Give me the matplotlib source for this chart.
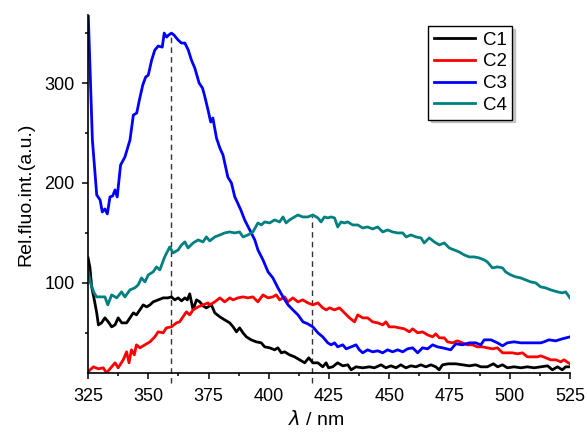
import numpy as np
import matplotlib
matplotlib.use("Agg")
import matplotlib.pyplot as plt
from matplotlib.ticker import MultipleLocator

plt.rcParams['font.family'] = ['Liberation Sans', 'DejaVu Sans']

# C1 (black)
c1_x = [325, 325.8, 326.5, 327.6, 328.6, 329.3, 330.6, 332, 333.4, 334.8, 336.2, 337.5, 339, 341, 342.4,
        343.8, 345.1, 346.5, 347.9, 349.3, 350.7, 352, 354.1, 356.2, 358.2, 359.6, 361, 362.4, 363.8, 365.2,
        366.2, 367.2, 368.6, 370, 371.4, 372.7, 374.1, 375.5, 376.2, 377.6, 379.7, 381.7, 383.8, 385.2, 386.6,
        387.9, 389.3, 390.7, 392.7, 394.8, 396.9, 398.3, 400.4, 402.4, 403.8, 405.2, 406.6, 408.6, 410.7, 412.8,
        414.9, 416.6, 418.3, 420.4, 422.4, 423.8, 424.8, 426.5, 428.6, 430.7, 432.8, 434.2, 436.2, 439, 441.8,
        443.8, 446.6, 448.6, 450.7, 452.8, 454.8, 456.9, 459, 461.1, 463.1, 465.2, 467.3, 469.3, 470.7, 472.1,
        474.5, 477.6, 480.4, 483.2, 485.9, 488, 490.7, 493.2, 495, 497, 499, 501.8, 504.6, 507.3, 510.1,
        512.9, 515.7, 517.7, 519.8, 521.8, 523.2, 525]
c1_y = [125, 115, 96, 83, 70, 58, 60, 65, 61, 56, 58, 65, 60, 60, 65,
        70, 68, 73, 78, 76, 78, 81, 83, 85, 85, 86, 83, 85, 82, 85,
        83, 89, 73, 83, 81, 77, 75, 77, 78, 70, 66, 63, 60, 56, 51,
        55, 50, 46, 43, 41, 40, 36, 35, 33, 35, 30, 31, 28, 26, 23,
        20, 25, 20, 20, 16, 20, 15, 16, 20, 17, 18, 13, 16, 15, 16,
        15, 18, 15, 17, 15, 18, 15, 17, 16, 18, 16, 18, 16, 13, 18,
        19, 19, 18, 17, 18, 16, 16, 19, 16, 18, 15, 16, 15, 16, 15,
        16, 17, 13, 16, 13, 16, 16]

# C2 (red)
c2_x = [325, 327.2, 329.3, 331.3, 332.7, 334.8, 336.2, 337.5, 339.6, 341, 342, 343, 344.2, 345.1, 346.5,
        348.6, 350.7, 352.7, 354.1, 356.2, 357.5, 359.6, 361.7, 363, 364.4, 365.8, 367.2, 368.6, 370.7, 372.7,
        374.8, 375.5, 377.6, 379.7, 381.7, 383.8, 385.2, 387.2, 389.3, 391.4, 393.4, 395.5, 397.6, 399.7, 401.7,
        403.1, 404.5, 406.6, 407.9, 410, 412.1, 414.1, 416.2, 418.3, 420.4, 422.4, 423.8, 425.2, 427.3, 429.3,
        431.4, 433.5, 435.6, 436.9, 439, 441, 443.1, 445.2, 447.3, 448.6, 450, 452.1, 454.2, 456.3, 458.3,
        459.7, 461.8, 463.8, 465.9, 468, 469.3, 470.8, 472.8, 474.2, 476.2, 478.3, 480.4, 482.4, 484.5, 486.6,
        488.7, 490.7, 492.8, 494.9, 497, 499, 501.1, 503.2, 505.3, 507.3, 509.4, 511.5, 512.9, 515, 517,
        519.1, 521.2, 522.5, 525]
c2_y = [11, 16, 14, 15, 10, 16, 20, 15, 23, 31, 20, 33, 28, 38, 35,
        38, 41, 46, 51, 50, 55, 56, 60, 61, 66, 71, 68, 73, 76, 78,
        80, 78, 81, 85, 81, 85, 83, 85, 86, 85, 86, 81, 88, 85, 86,
        88, 83, 86, 81, 85, 81, 83, 80, 78, 80, 75, 73, 75, 73, 75,
        70, 65, 61, 68, 65, 65, 61, 60, 58, 61, 56, 56, 55, 54, 51,
        54, 50, 51, 48, 46, 49, 45, 45, 41, 40, 42, 40, 38, 38, 36,
        36, 35, 34, 35, 30, 30, 30, 29, 30, 26, 26, 26, 27, 25, 23,
        23, 21, 23, 19]

# C3 (blue)
c3_x = [325, 326.8, 328.6, 330, 330.9, 332, 333, 334.1, 335.2, 336.2, 337.1, 338.5, 340.3, 342.4, 343.8,
        345.2, 346.3, 347.7, 348.9, 350, 351.4, 352.7, 354.1, 355.8, 356.6, 357.6, 358.4, 359.6, 360.7, 362.4,
        363.8, 365.2, 366.6, 367.9, 369.3, 371.1, 372.5, 373.4, 374.8, 375.9, 376.8, 378.3, 379.7, 381, 383,
        384.5, 385.9, 386.5, 388.4, 390, 392.1, 394.2, 395.5, 397.6, 399.7, 401.7, 403.8, 405.9, 408, 410,
        412.1, 414.2, 416.2, 418.3, 420.4, 422.4, 424.5, 425.9, 427.3, 428.6, 430.7, 432.1, 434.2, 436.2, 437.6,
        439, 441, 443.1, 445.2, 447.3, 449.3, 451.4, 453.5, 455.6, 457.6, 459.7, 461.8, 463.8, 465.9, 468,
        470, 472.1, 475.5, 477.6, 480.4, 483.2, 485.9, 488, 489.4, 492.2, 494.9, 497, 499, 501.8, 504.6,
        507.3, 510.1, 512.9, 514.2, 516.3, 519.1, 521.8, 525]
c3_y = [375, 243, 188, 183, 171, 174, 169, 186, 187, 193, 186, 218, 226, 243, 268,
        270, 283, 298, 306, 308, 323, 333, 337, 336, 350, 346, 348, 350, 348, 343,
        340, 340, 333, 323, 315, 300, 295, 287, 273, 261, 265, 245, 235, 228, 206,
        200, 186, 183, 173, 163, 153, 143, 133, 123, 111, 105, 95, 86, 78, 73,
        68, 61, 59, 56, 50, 46, 40, 38, 40, 36, 38, 34, 36, 38, 33,
        30, 33, 31, 32, 30, 33, 31, 33, 31, 34, 35, 30, 35, 34, 38,
        36, 35, 33, 39, 38, 40, 40, 38, 43, 43, 40, 37, 40, 41, 40,
        40, 40, 40, 41, 43, 42, 44, 46]

# C4 (teal)
c4_x = [325, 326, 327.5, 328.6, 330.6, 332, 333.2, 334.8, 336.9, 338.9, 340.3, 342.4, 344.4, 345.8, 347.2,
        348.6, 350, 352, 353.4, 354.8, 356.8, 358.9, 360.3, 362.4, 363.8, 365.2, 366.5, 368.6, 370.7, 372.7,
        374.1, 375.5, 377.6, 379.7, 381.7, 383.8, 385.9, 387.9, 389.3, 391.4, 393.4, 395.5, 396.9, 398.3, 400.4,
        402.4, 404.5, 405.9, 407.2, 408.6, 410, 412.1, 414.1, 416.2, 418.3, 420.4, 421.7, 423.1, 424.5, 425.9,
        427.3, 428.6, 430, 431.4, 432.8, 434.8, 436.9, 439, 441, 443.1, 445.2, 447.3, 449.3, 451.4, 453.5,
        455.6, 457, 459, 461.1, 463.2, 464.5, 466.6, 468.7, 470.8, 472.8, 474.9, 476.9, 479, 481.1, 483.2,
        485.2, 487.3, 489.4, 490.7, 492.8, 494.9, 497, 498.3, 500.4, 502.5, 504.5, 506.6, 508.7, 510.8, 512.8,
        514.9, 517, 519.8, 521.8, 523.2, 525]
c4_y = [112, 100, 90, 86, 86, 86, 78, 88, 85, 91, 86, 93, 95, 98, 105,
        101, 108, 111, 116, 113, 126, 136, 130, 133, 138, 141, 135, 140, 143, 141,
        146, 142, 146, 148, 150, 151, 150, 151, 146, 148, 151, 160, 158, 161, 160,
        163, 161, 166, 160, 163, 165, 168, 166, 166, 168, 165, 161, 166, 165, 166,
        165, 156, 161, 160, 161, 158, 158, 155, 156, 154, 156, 151, 153, 151, 150,
        150, 146, 148, 146, 145, 140, 145, 141, 138, 140, 135, 133, 131, 128, 126,
        126, 125, 123, 121, 115, 116, 115, 111, 108, 106, 105, 103, 101, 100, 96,
        95, 93, 91, 90, 91, 85]

labels = ['C1', 'C2', 'C3', 'C4']
colors = ['black', '#ff0000', '#0000ff', '#008080']

# peak markers (wavelength, height)
peak_x = [359.5, 418]
peak_y = [350, 167]

fig = plt.figure(figsize=(5.87, 4.32), dpi=100)
ax = fig.add_axes([0.150, 0.137, 0.821, 0.828])

for px, py in zip(peak_x, peak_y):
    ax.plot([px, px], [0, py], color='#333333', lw=1, dashes=(4, 3), zorder=1, clip_on=False)

for xs, ys, lab, col in zip([c1_x, c2_x, c3_x, c4_x], [c1_y, c2_y, c3_y, c4_y], labels, colors):
    ax.plot(xs, ys, color=col, lw=2, label=lab, zorder=2)

ax.set_xlim(325, 525)
ax.set_ylim(10, 368)
ax.xaxis.set_major_locator(MultipleLocator(25))
ax.xaxis.set_minor_locator(MultipleLocator(12.5))
ax.yaxis.set_major_locator(MultipleLocator(100))
ax.yaxis.set_minor_locator(MultipleLocator(50))

ax.spines['top'].set_visible(False)
ax.spines['right'].set_visible(False)
for s in ['left', 'bottom']:
    ax.spines[s].set_linewidth(1.2)
ax.tick_params(which='major', direction='out', length=4.5, width=1.1, labelsize=13, pad=5)
ax.tick_params(axis='x', which='major', pad=6.5)
ax.tick_params(which='minor', direction='out', length=2.3, width=1.1)

ax.set_ylabel('Rel.fluo.int.(a.u.)', fontsize=14)
ax.yaxis.set_label_coords(-0.112, 0.5)
ax.set_xlabel(r'$\lambda$ / nm', fontsize=14)
ax.xaxis.set_label_coords(0.473, -0.105)

leg = ax.legend(loc='upper right', bbox_to_anchor=(0.88, 0.97), borderaxespad=0,
                fontsize=13.5, frameon=True, fancybox=False, edgecolor='black',
                handlelength=2.2, labelspacing=0.25, handletextpad=0.4,
                borderpad=0.3, shadow={'color': '#999999', 'alpha': 0.5})
leg.get_frame().set_linewidth(1.0)

fig.savefig('out.png', dpi=100)
